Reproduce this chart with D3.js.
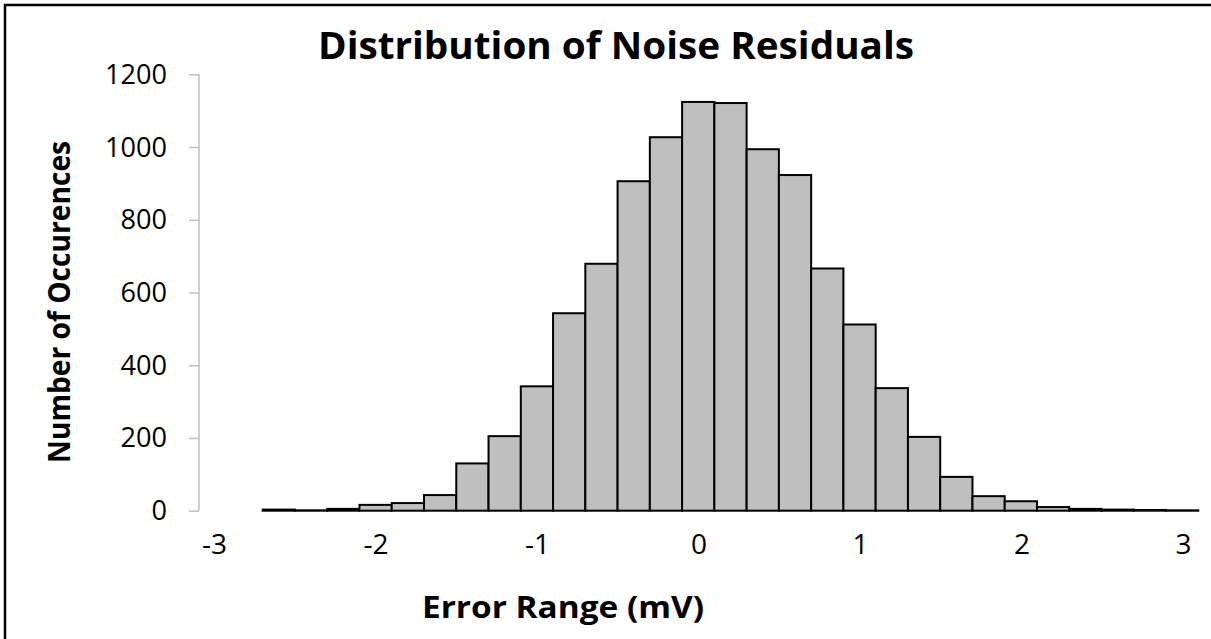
<!DOCTYPE html>
<html>
<head>
<meta charset="utf-8">
<script src="https://cdn.jsdelivr.net/npm/d3@7"></script>
<style>
  body { margin: 0; background: #fff; }
  svg { display: block; }
  text { font-family: "Open Sans", "Noto Sans", sans-serif; fill: #000; }
</style>
</head>
<body>
<div id="container"></div>
<script>
// histogram counts, one per bin, left to right
const binCounts = [3, 1, 5, 16, 21, 43, 130, 205, 342, 543, 679, 906, 1027, 1124, 1121,
  994, 923, 666, 512, 337, 203, 93, 40, 26, 10, 5, 3, 2, 1];
const xTickValues = [-3, -2, -1, 0, 1, 2, 3];
const yTickValues = [0, 200, 400, 600, 800, 1000, 1200];

const chartTitle = "Distribution of Noise Residuals";
const xTitle = "Error Range (mV)";
const yTitle = "Number of Occurences";

const width = 1211;
const height = 639;
const axisX = 199;
const plotTop = 74.3;
const plotBottom = 510.7;
const barLeft = 262.7;
const barRight = 1198.3;
const barfill = "#bfbfbf";
const axiscolor = "#bfbfbf";
const tickfont = 28;

const svg = d3.select("#container").append("svg")
  .attr("width", width).attr("height", height);

// page frame (top and left edges only)
svg.append("path")
  .attr("d", `M5,${height} L5,5 L${width},5`)
  .attr("fill", "none")
  .attr("stroke", "#000")
  .attr("stroke-width", 2.5);

const y = d3.scaleLinear().domain([0, 1200]).range([plotBottom, plotTop]);
const xBins = d3.scaleBand().domain(d3.range(binCounts.length)).range([barLeft, barRight]).padding(0);
const xLabels = d3.scaleLinear().domain([-3, 3]).range([214, 1183]);

// y axis
const yAxis = svg.append("g")
  .attr("transform", `translate(${axisX},0)`)
  .call(d3.axisLeft(y).tickValues(yTickValues).tickSize(10).tickPadding(22).tickFormat(d3.format("d")));
yAxis.select(".domain").attr("stroke", axiscolor).attr("stroke-width", 1.5)
  .attr("d", `M0,${plotTop}V${plotBottom}`);
yAxis.selectAll(".tick line").attr("stroke", axiscolor).attr("stroke-width", 1.5);
yAxis.selectAll(".tick text").attr("font-size", tickfont).attr("font-family", "Open Sans").attr("fill", "#000")
  .attr("textLength", d => String(d).length * 15.5).attr("lengthAdjust", "spacingAndGlyphs");

// bars
svg.selectAll(".bar")
  .data(binCounts)
  .enter().append("rect")
  .attr("class", "bar")
  .attr("x", (d, i) => xBins(i))
  .attr("y", d => y(d))
  .attr("width", xBins.bandwidth())
  .attr("height", d => y(0) - y(d))
  .attr("fill", barfill)
  .attr("stroke", "#000")
  .attr("stroke-width", 2);

// x labels (no axis line in the original)
const xAxis = svg.append("g")
  .attr("transform", `translate(0,${plotBottom})`)
  .call(d3.axisBottom(xLabels).tickValues(xTickValues).tickSize(0).tickPadding(23).tickFormat(d3.format("d")));
xAxis.select(".domain").remove();
xAxis.selectAll(".tick text").attr("font-size", tickfont).attr("font-family", "Open Sans").attr("fill", "#000")
  .text(d => d < 0 ? "-" + Math.abs(d) : d);

// titles
svg.append("text")
  .attr("x", 616).attr("y", 59)
  .attr("text-anchor", "middle")
  .attr("font-size", 38).attr("font-weight", "bold")
  .attr("textLength", 596).attr("lengthAdjust", "spacingAndGlyphs")
  .text(chartTitle);

svg.append("text")
  .attr("x", 563).attr("y", 618)
  .attr("text-anchor", "middle")
  .attr("font-size", 30).attr("font-weight", "bold")
  .attr("textLength", 282).attr("lengthAdjust", "spacingAndGlyphs")
  .text(xTitle);

svg.append("text")
  .attr("transform", "translate(70,302) rotate(-90)")
  .attr("text-anchor", "middle")
  .attr("font-size", 30).attr("font-weight", "bold")
  .attr("textLength", 322).attr("lengthAdjust", "spacingAndGlyphs")
  .text(yTitle);
</script>
</body>
</html>
